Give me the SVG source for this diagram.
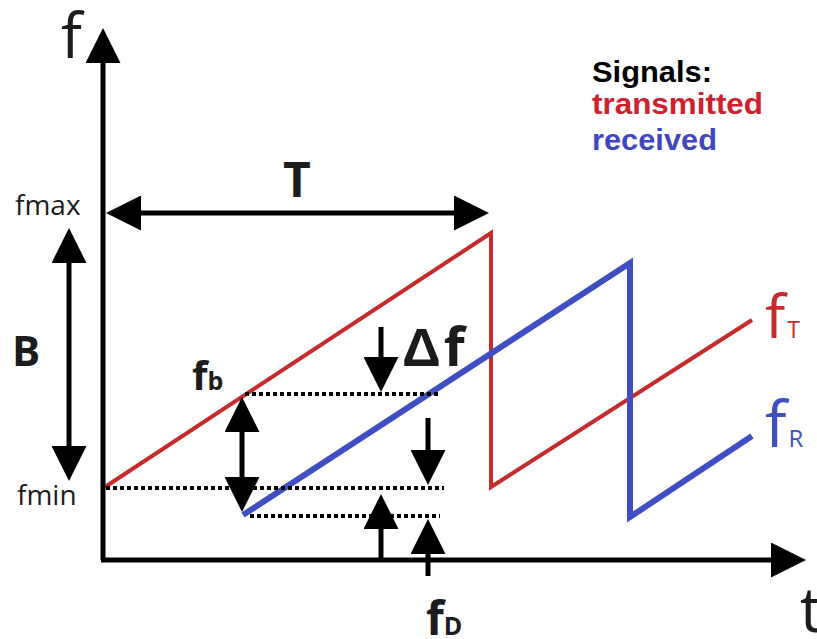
<svg xmlns="http://www.w3.org/2000/svg" width="817" height="639" viewBox="0 0 817 639">
<style>
.lbl{font-family:"Open Sans","Liberation Sans",sans-serif;fill:#1c1c1c}
.b{font-weight:bold}
.leg{font-family:"Liberation Sans",Arial,sans-serif;font-weight:bold;font-size:29px}
.ax{stroke:#000;stroke-width:5;fill:none}
.dot{stroke:#000;stroke-width:4;stroke-dasharray:4 3;fill:none}
.red{fill:#c62a2a}
.blue{fill:#3d4fc2}
</style>
<defs>
<marker id="ah" viewBox="0 0 35 35" markerUnits="userSpaceOnUse" markerWidth="35" markerHeight="35" refX="1" refY="17.5" orient="auto-start-reverse">
<path d="M0,0 L35,17.5 L0,35 Z" fill="#000"/>
</marker>
</defs>
<rect width="817" height="639" fill="#fff"/>

<g id="signals">
<polyline id="transmitted-signal" points="105,487 491,233 491,487 752,320" fill="none" stroke="#c62a2a" stroke-width="4" stroke-linejoin="miter"/>
<polyline id="received-signal" points="243,515 630,263 630,517 752,436" fill="none" stroke="#3d4fc2" stroke-width="6" stroke-linejoin="miter"/>
</g>

<g id="connectors">
<line class="ax" x1="103" y1="560" x2="103" y2="62" marker-end="url(#ah)"/>
<line class="ax" x1="101" y1="560" x2="772" y2="560" marker-end="url(#ah)"/>
<line class="ax" x1="140" y1="213" x2="455" y2="213" marker-start="url(#ah)" marker-end="url(#ah)"/>
<line class="ax" x1="69" y1="262" x2="69" y2="447" marker-start="url(#ah)" marker-end="url(#ah)"/>
<line class="ax" x1="242" y1="431" x2="242" y2="478" marker-start="url(#ah)" marker-end="url(#ah)"/>
<line class="ax" x1="381" y1="327" x2="381" y2="358" marker-end="url(#ah)"/>
<line class="ax" x1="428" y1="418" x2="428" y2="451" marker-end="url(#ah)"/>
<line class="ax" x1="381" y1="558" x2="381" y2="528" marker-end="url(#ah)"/>
<line class="ax" x1="428" y1="576" x2="428" y2="553" marker-end="url(#ah)"/>
<line class="dot" x1="245" y1="394" x2="440" y2="394"/>
<line class="dot" x1="106" y1="488" x2="444" y2="488"/>
<line class="dot" x1="250" y1="516" x2="440" y2="516"/>
</g>

<g id="axis-f"><text class="lbl" x="61" y="58" font-size="62">f</text></g>
<g id="axis-t"><text class="lbl" x="800" y="632" font-size="62">t</text></g>
<g id="fmax"><text class="lbl" x="15" y="215" font-size="28">fmax</text></g>
<g id="fmin"><text class="lbl" x="17" y="505" font-size="28">fmin</text></g>
<g id="T"><text class="lbl b" x="297" y="197" font-size="48" text-anchor="middle">T</text></g>
<g id="B"><text class="lbl b" x="12" y="366" font-size="42">B</text></g>
<g id="fb"><text class="lbl b" x="192" y="390" font-size="40">f<tspan font-size="25">b</tspan></text></g>
<g id="delta-f"><text class="lbl b" x="402" y="366" font-size="54"><tspan font-family="'Liberation Sans',sans-serif">Δ</tspan><tspan dx="3">f</tspan></text></g>
<g id="fD"><text class="lbl b" x="426" y="635" font-size="46">f<tspan font-size="25">D</tspan></text></g>
<g id="fT"><text class="lbl red" x="765" y="338" font-size="60" style="fill:#c62a2a">f<tspan font-size="23" dx="2">T</tspan></text></g>
<g id="fR"><text class="lbl blue" x="765" y="447" font-size="64" style="fill:#3d4fc2">f<tspan font-size="24" dx="2">R</tspan></text></g>

<g id="legend">
<text class="leg" x="592" y="82" fill="#000" textLength="120" lengthAdjust="spacingAndGlyphs">Signals:</text>
<text class="leg" x="592" y="114" fill="#d0202e" textLength="171" lengthAdjust="spacingAndGlyphs">transmitted</text>
<text class="leg" x="592" y="150" fill="#3e46c0" textLength="125" lengthAdjust="spacingAndGlyphs">received</text>
</g>
</svg>
